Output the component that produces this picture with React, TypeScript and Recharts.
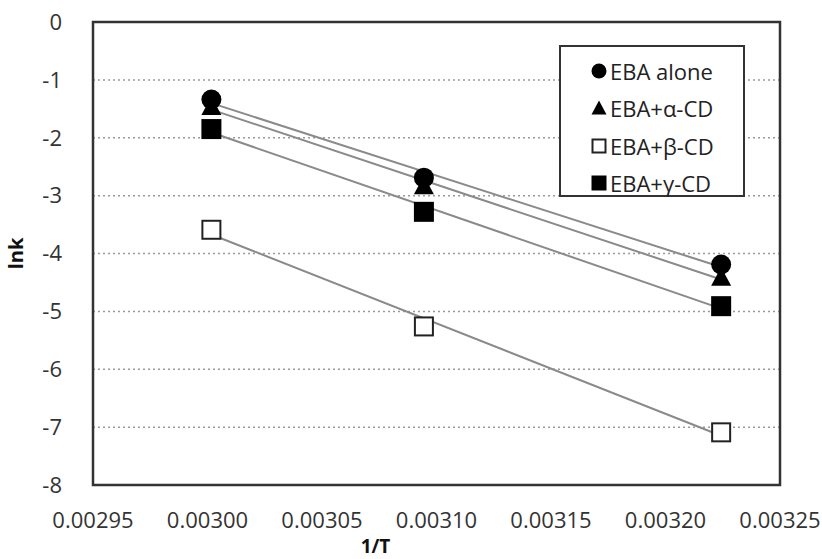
import React from 'react';
import {
  ComposedChart, Scatter, Line, XAxis, YAxis, CartesianGrid, ReferenceArea, Legend,
} from 'recharts';

const invT = [0.0030017, 0.0030945, 0.0032243];
const ebaAlone = [-1.34, -2.69, -4.19];
const ebaAlpha = [-1.46, -2.83, -4.41];
const ebaBeta = [-3.59, -5.26, -7.09];
const ebaGamma = [-1.85, -3.28, -4.91];

const xTicks = [0.00295, 0.003, 0.00305, 0.0031, 0.00315, 0.0032, 0.00325];
const yTicks = [0, -1, -2, -3, -4, -5, -6, -7, -8];

const seriesNames = ['EBA alone', 'EBA+\u03b1-CD', 'EBA+\u03b2-CD', 'EBA+\u03b3-CD'];
const seriesValues = [ebaAlone, ebaAlpha, ebaBeta, ebaGamma];
const seriesShapes = ['circle', 'triangle', 'openSquare', 'square'];

const FONT = '"Open Sans", "DejaVu Sans", sans-serif';

function points(vals: number[]) {
  return invT.map((x, i) => ({ x, y: vals[i] }));
}

function trend(vals: number[]) {
  const n = invT.length;
  const mx = invT.reduce((a, b) => a + b, 0) / n;
  const my = vals.reduce((a, b) => a + b, 0) / n;
  let sxy = 0, sxx = 0;
  for (let i = 0; i < n; i++) {
    sxy += (invT[i] - mx) * (vals[i] - my);
    sxx += (invT[i] - mx) * (invT[i] - mx);
  }
  const b = sxy / sxx;
  const a = my - b * mx;
  const x0 = invT[0];
  const x1 = invT[n - 1];
  return [{ x: x0, y: a + b * x0 }, { x: x1, y: a + b * x1 }];
}

function Marker({ kind, cx, cy, s }: { kind: string; cx: number; cy: number; s: number }) {
  const h = s / 2;
  if (kind === 'circle') return <circle cx={cx} cy={cy} r={h} fill="#000" />;
  if (kind === 'triangle')
    return <polygon points={`${cx},${cy - h} ${cx + h},${cy + h * 0.85} ${cx - h},${cy + h * 0.85}`} fill="#000" />;
  if (kind === 'square') return <rect x={cx - h} y={cy - h} width={s} height={s} fill="#000" />;
  return <rect x={cx - h + 1} y={cy - h + 1} width={s - 2} height={s - 2} fill="#fff" stroke="#222" strokeWidth={2} />;
}

const makeShape = (kind: string) => (props: any) => (
  <Marker kind={kind} cx={props.cx} cy={props.cy} s={20} />
);

function LegendBox() {
  return (
    <div
      style={{
        width: 186, height: 152, boxSizing: 'border-box', border: '2px solid #333', background: '#fff',
        fontFamily: FONT, fontSize: 22, color: '#222', paddingTop: 5,
      }}
    >
      {seriesNames.map((name, i) => (
        <div key={name} style={{ display: 'flex', alignItems: 'center', height: 37.5, paddingLeft: 30 }}>
          <svg width={16} height={16} style={{ marginRight: 3 }}>
            <Marker kind={seriesShapes[i]} cx={8} cy={8} s={15} />
          </svg>
          <span>{name}</span>
        </div>
      ))}
    </div>
  );
}

export default function App() {
  return (
    <div style={{ position: 'absolute', left: 0, top: 0, background: '#fff' }}>
      <ComposedChart width={822} height={559} margin={{ top: 22, right: 42, bottom: 0, left: 0 }}>
        <CartesianGrid vertical={false} stroke="#9a9a9a" strokeDasharray="2 3" strokeWidth={1.5} />
        <XAxis
          type="number"
          dataKey="x"
          domain={[0.00295, 0.00325]}
          ticks={xTicks}
          allowDataOverflow
          tickFormatter={(v: number) => v.toFixed(5)}
          tick={{ fill: '#333', fontSize: 22, fontFamily: FONT }}
          tickSize={0}
          tickMargin={27}
          axisLine={false}
          height={74}
          label={{
            content: (p: any) => (
              <text
                x={p.viewBox.x + p.viewBox.width / 2 - 61}
                y={p.viewBox.y + 61}
                textAnchor="middle"
                dominantBaseline="central"
                fontFamily={FONT}
                fontWeight="bold"
                fontSize={19}
                fill="#111"
              >
                1/T
              </text>
            ),
          }}
        />
        <YAxis
          type="number"
          dataKey="y"
          domain={[-8, 0]}
          ticks={yTicks}
          allowDataOverflow
          tick={{ fill: '#333', fontSize: 22, fontFamily: FONT }}
          tickSize={0}
          tickMargin={31}
          axisLine={false}
          width={93}
          label={{
            content: (p: any) => {
              const x = p.viewBox.x + 15;
              const y = p.viewBox.y + p.viewBox.height / 2;
              return (
                <text
                  x={x}
                  y={y}
                  transform={`rotate(-90 ${x} ${y})`}
                  textAnchor="middle"
                  dominantBaseline="central"
                  fontFamily={FONT}
                  fontWeight="bold"
                  fontSize={20}
                  fill="#111"
                >
                  lnk
                </text>
              );
            },
          }}
        />
        <ReferenceArea x1={0.00295} x2={0.00325} y1={-8} y2={0} fill="none" stroke="#333" strokeWidth={2.5} ifOverflow="visible" />
        {seriesValues.map((vals, i) => (
          <Line
            key={'t' + i}
            data={trend(vals)}
            dataKey="y"
            type="linear"
            stroke="#8a8a8a"
            strokeWidth={2}
            dot={false}
            activeDot={false}
            legendType="none"
            isAnimationActive={false}
          />
        ))}
        {seriesValues.map((vals, i) => (
          <Scatter
            key={'s' + i}
            name={seriesNames[i]}
            data={points(vals)}
            shape={makeShape(seriesShapes[i])}
            isAnimationActive={false}
          />
        ))}
        <Legend
          layout="vertical"
          align="center"
          verticalAlign="middle"
          content={() => <LegendBox />}
          wrapperStyle={{ position: 'absolute', left: 559, top: 45, width: 186, height: 152 }}
        />
      </ComposedChart>
    </div>
  );
}
